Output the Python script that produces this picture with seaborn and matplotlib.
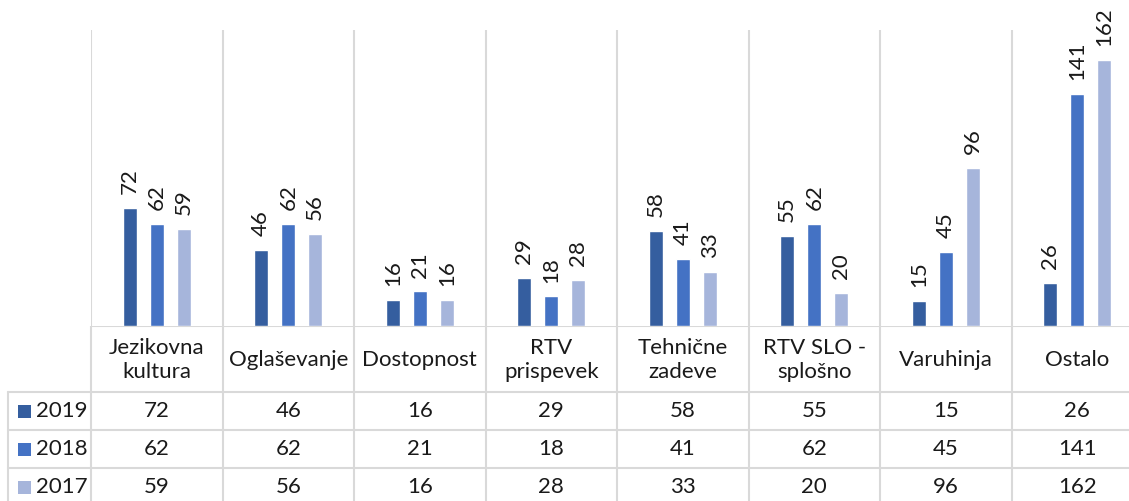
import pandas as pd
import seaborn as sns
import matplotlib.pyplot as plt
from matplotlib.patches import Rectangle

# podatki
kategorije = ['Jezikovna\nkultura', 'Oglaševanje', 'Dostopnost', 'RTV\nprispevek',
              'Tehnične\nzadeve', 'RTV SLO -\nsplošno', 'Varuhinja', 'Ostalo']
leta = ['2019', '2018', '2017']
v2019 = [72, 46, 16, 29, 58, 55, 15, 26]
v2018 = [62, 62, 21, 18, 41, 62, 45, 141]
v2017 = [59, 56, 16, 28, 33, 20, 96, 162]
barve = ['#355E9F', '#4472C4', '#A6B5DB']

vrednosti = {'2019': v2019, '2018': v2018, '2017': v2017}
df = pd.DataFrame([
    {'kategorija': k, 'leto': l, 'st': vrednosti[l][i]}
    for l in leta for i, k in enumerate(kategorije)
])

sns.set_theme(style='white')
plt.rcParams['font.family'] = ['Lato', 'DejaVu Sans']
FS = 16
GRID = '#D9D9D9'
TXT = '#1a1a1a'

W, H = 1129, 501
fig = plt.figure(figsize=(W / 100, H / 100), dpi=100)

# razporeditev v pikslih
x_left, x_right = 91, 1143
y_base, y_top = 326, 30
col_w = (x_right - x_left) / len(kategorije)

ax = fig.add_axes([x_left / W, (H - y_base) / H, (x_right - x_left) / W, (y_base - y_top) / H])
sns.barplot(data=df, x='kategorija', y='st', hue='leto', hue_order=leta,
            palette=barve, width=0.616, gap=0.48, saturation=1, ax=ax, legend=False)
ax.set_xlim(-0.5, len(kategorije) - 0.5)
ax.set_ylim(0, 180)
for c in ax.containers:
    ax.bar_label(c, rotation=90, padding=10, fontsize=FS, color=TXT)
for s in ax.spines.values():
    s.set_visible(False)
ax.set_xticks([])
ax.set_yticks([])
ax.set_xlabel('')
ax.set_ylabel('')
for i in range(len(kategorije) + 1):
    ax.axvline(i - 0.5, color=GRID, lw=1.5, ymin=0, ymax=1)

# tabela s podatki
ax_t = fig.add_axes([0, 0, x_right / W, (H - y_base) / H])
ax_t.set_xlim(-0.5 - x_left / col_w, len(kategorije) - 0.5)
ax_t.set_ylim(H - y_base, 0)
ax_t.axis('off')

head_h, row_h = 66, 38
leg_left = -0.5 - (x_left - 8) / col_w
xe = len(kategorije) - 0.5
ax_t.plot([-0.5, xe], [0, 0], color=GRID, lw=1.5)
for r in range(len(leta)):
    yy = head_h + r * row_h
    ax_t.plot([leg_left, xe], [yy, yy], color=GRID, lw=1.5)
ax_t.plot([leg_left, leg_left], [head_h, H], color=GRID, lw=1.5)
for i in range(len(kategorije) + 1):
    ax_t.plot([i - 0.5, i - 0.5], [0, H], color=GRID, lw=1.5)

for i, k in enumerate(kategorije):
    ax_t.text(i, head_h / 2 + 1, k, ha='center', va='center', fontsize=FS,
              linespacing=1.3, color=TXT)

sq = 13 / col_w
for r, l in enumerate(leta):
    yc = head_h + r * row_h + row_h / 2
    ax_t.add_patch(Rectangle((-0.5 - (x_left - 18) / col_w, yc - 6.5), sq, 13,
                             color=barve[r], lw=0))
    ax_t.text(-0.5 - (x_left - 36) / col_w, yc, l, ha='left', va='center',
              fontsize=FS, color=TXT)
    for i, v in enumerate(vrednosti[l]):
        ax_t.text(i, yc, str(v), ha='center', va='center', fontsize=FS, color=TXT)

fig.savefig('out.png', dpi=100)
